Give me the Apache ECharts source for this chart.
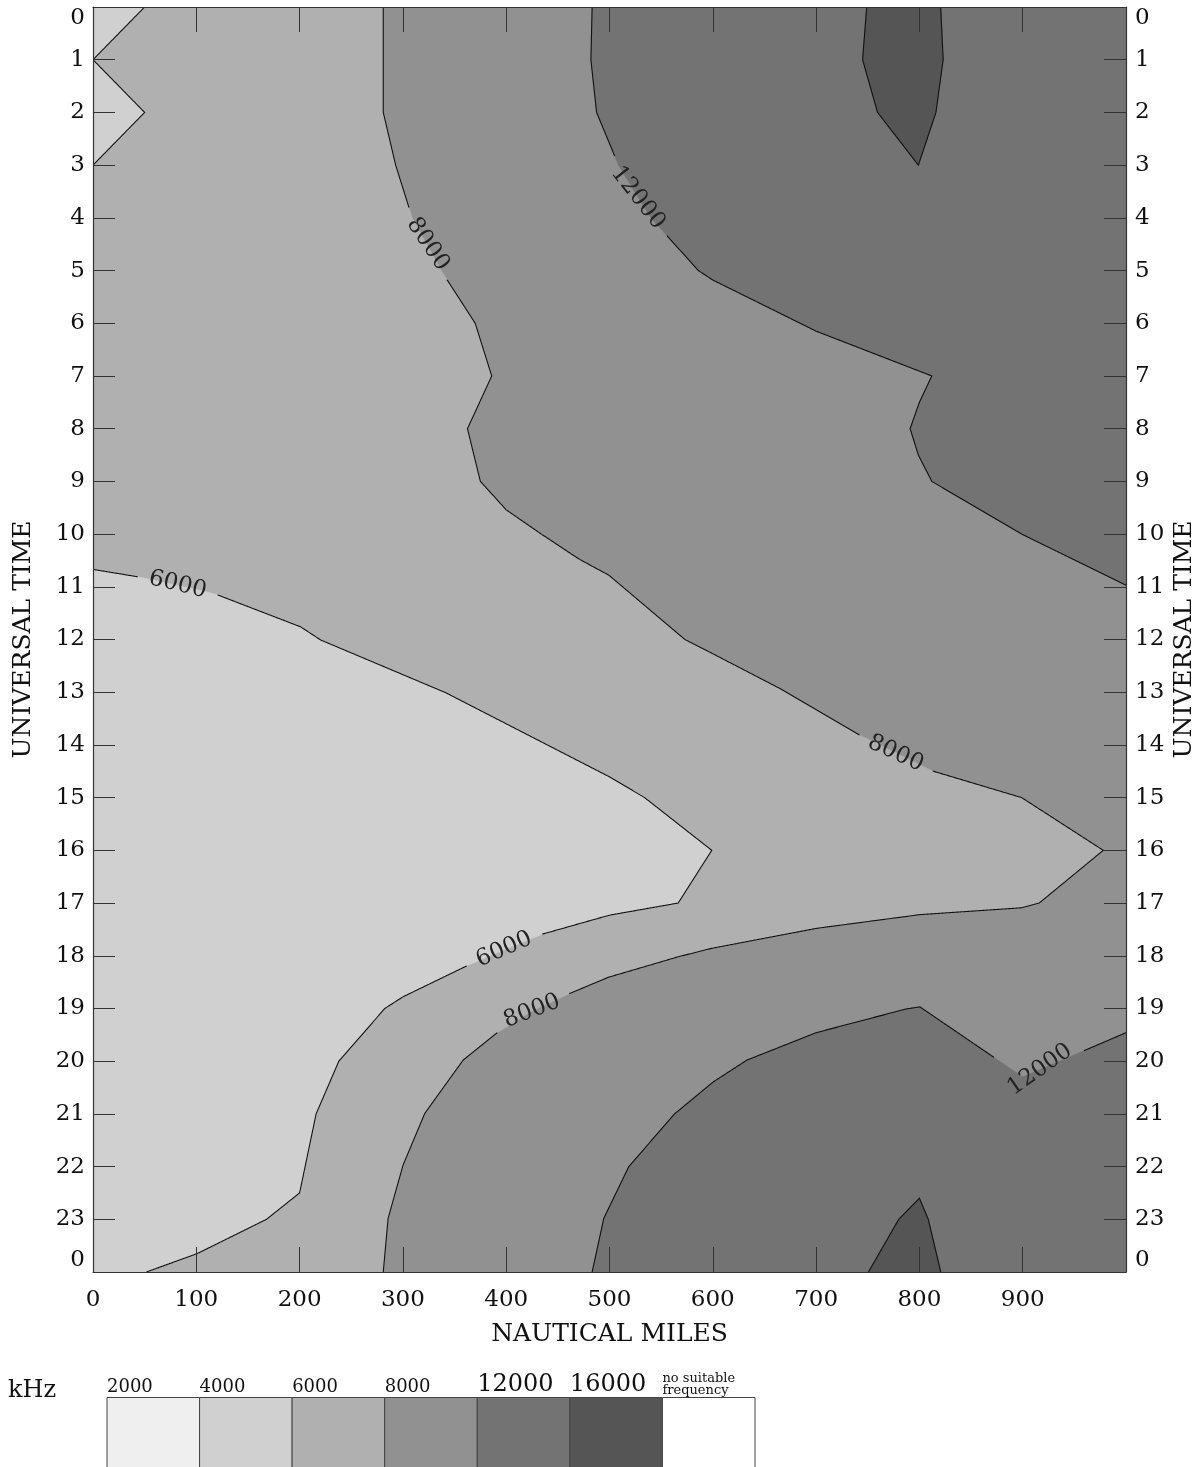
<!DOCTYPE html>
<html>
<head>
<meta charset="utf-8">
<script src="https://cdn.jsdelivr.net/npm/echarts/dist/echarts.min.js"></script>
<style>
html,body{margin:0;padding:0;background:#ffffff;}
#chart{width:1195px;height:1467px;}
</style>
</head>
<body>
<div id="chart"></div>
<script>
// ---------------- DATA (nautical miles, universal time hour; 24 = 0 of next day) ----------------
const mileTickLabels = ['0','100','200','300','400','500','600','700','800','900',''];
const hourTickLabels = ['0','1','2','3','4','5','6','7','8','9','10','11','12','13','14','15','16','17','18','19','20','21','22','23','0'];

const contour6000Top = [[50,0],[0,1],[50,2],[0,3]];
const contour6000 = [[0,10.67],[43.3,10.81],[100,11.05],[118.8,11.14],[201,11.76],[220.5,12.01],[341.5,13.01],[499.4,14.6],[534,15],[599,16],[566.5,17],[500,17.23],[435,17.59],[400,17.87],[361,18.2],[300,18.78],[282.5,19],[238,20],[216,21],[200,22.5],[168,23],[101,23.65],[51.7,24]];
const contour8000 = [[281,0],[281,2],[293,3],[309,4],[337,5],[370,6],[386,7],[362.5,8],[375,9],[400,9.54],[434,10],[471,10.48],[499.4,10.78],[573,12],[599,12.26],[665,12.93],[742,13.81],[812,14.49],[899,15],[978,16],[916,17],[899,17.09],[800.5,17.22],[700.5,17.48],[598.8,17.86],[566.5,18.02],[498.7,18.41],[461,18.72],[425,19.05],[390.6,19.47],[358.3,19.98],[321.2,20.99],[300.2,21.97],[285.7,22.98],[281,24]];
const contour12000Top = [[483.2,0],[482,1],[487.5,2],[508.7,3],[540,4],[586,5],[600,5.18],[700,6.15],[812,7],[800,7.5],[791,8],[799,8.5],[812,9],[899,10],[1000,10.97]];
const contour12000Bottom = [[1000,19.46],[900,20.3],[800.5,18.97],[787,19.01],[700,19.46],[633,19.98],[600.7,20.39],[563,21],[518.7,22],[494.5,22.98],[483.2,24]];
const contour16000Top = [[749,0],[745,1],[759.5,2],[799,3],[816,2],[823,1],[820.6,0]];
const contour16000Bottom = [[750.7,24],[780,23],[800,22.6],[808.6,23],[820.7,24]];

// contour labels: which line, text, position on the line
const contourLabels = [
  {line:'c8000',  text:'8000',  at:[324,4.5]},
  {line:'c12000Top', text:'12000', at:[527.5,3.62]},
  {line:'c6000',  text:'6000',  at:[82,10.96]},
  {line:'c8000',  text:'8000',  at:[777,14.16]},
  {line:'c6000',  text:'6000',  at:[398,17.88]},
  {line:'c8000',  text:'8000',  at:[425,19.05]},
  {line:'c12000Bottom', text:'12000', at:[916.7,20.16]}
];

// legend (colour key)
const legendLabels = ['2000','4000','6000','8000','12000','16000','no suitable\nfrequency'];

// ---------------- STYLE ----------------
const X_MIN = 0, X_MAX = 1000, H_MIN = 0, H_MAX = 24;
const FONT = 'DejaVu Serif';
const labelAngles = [-56,-52,-13.5,-25,24,21,35]; // degrees, per contour label
const legendColors = ['#efefef','#d0d0d0','#b0b0b0','#919191','#737373','#555555','#ffffff'];
const colA = '#d0d0d0', colB = '#b0b0b0', colC = '#919191', colD = '#737373', colE = '#555555';

const bands = [
  {color: colC, pts: [[X_MIN,H_MIN],[X_MAX,H_MIN],[X_MAX,H_MAX],[X_MIN,H_MAX]]},
  {color: colB, pts: contour8000.concat([[X_MIN,H_MAX],[X_MIN,H_MIN]])},
  {color: colA, pts: contour6000Top.concat([[X_MIN,H_MIN]])},
  {color: colA, pts: contour6000.concat([[X_MIN,H_MAX]])},
  {color: colD, pts: contour12000Top.concat([[X_MAX,H_MIN]])},
  {color: colD, pts: contour12000Bottom.concat([[X_MAX,H_MAX]])},
  {color: colE, pts: contour16000Top},
  {color: colE, pts: contour16000Bottom}
];
const lines = [
  {name:'c6000Top', pts: contour6000Top},
  {name:'c6000', pts: contour6000},
  {name:'c8000', pts: contour8000},
  {name:'c12000Top', pts: contour12000Top},
  {name:'c12000Bottom', pts: contour12000Bottom},
  {name:'c16000Top', pts: contour16000Top},
  {name:'c16000Bottom', pts: contour16000Bottom}
];

const LABEL_FONT_SIZE = 23;
const measureCtx = document.createElement('canvas').getContext('2d');
function textWidth(t, size){ measureCtx.font = size + 'px "' + FONT + '"'; return measureCtx.measureText(t).width; }

function renderBand(params, api){
  const b = bands[params.dataIndex];
  return {
    type:'polygon',
    z2: params.dataIndex,
    shape:{points: b.pts.map(p => api.coord(p))},
    style:{fill: b.color, stroke: b.color, lineWidth: 0.6}
  };
}

function renderLine(params, api){
  const ln = lines[params.dataIndex];
  const px = ln.pts.map(p => api.coord(p));
  const labs = [];
  contourLabels.forEach((l, i) => {
    if (l.line !== ln.name) return;
    const c = api.coord(l.at);
    labs.push({x:c[0], y:c[1], r: textWidth(l.text, LABEL_FONT_SIZE)/2 + 11, text:l.text, angle: labelAngles[i]});
  });
  const pieces = []; let cur = [];
  for (let i = 0; i < px.length - 1; i++){
    const a = px[i], b = px[i+1];
    const len = Math.hypot(b[0]-a[0], b[1]-a[1]);
    const n = Math.max(1, Math.ceil(len));
    for (let k = (i === 0 ? 0 : 1); k <= n; k++){
      const t = k / n;
      const q = [a[0] + (b[0]-a[0])*t, a[1] + (b[1]-a[1])*t];
      const hidden = labs.some(l => Math.hypot(q[0]-l.x, q[1]-l.y) < l.r);
      if (hidden){ if (cur.length > 1) pieces.push(cur); cur = []; }
      else cur.push(q);
    }
  }
  if (cur.length > 1) pieces.push(cur);
  const children = pieces.map(p => ({
    type:'polyline', shape:{points:p},
    style:{stroke:'#111111', lineWidth:1.1, fill:null}
  }));
  labs.forEach(l => children.push({
    type:'text', x:l.x, y:l.y, rotation: l.angle * Math.PI / 180,
    style:{text:l.text, fill:'#222222', fontSize:LABEL_FONT_SIZE, fontFamily:FONT, align:'center', verticalAlign:'middle'}
  }));
  return {type:'group', children};
}

function renderKey(params, api){
  const i = params.dataIndex;
  const p0 = api.coord([i, 1]);
  const p1 = api.coord([i + 1, 0]);
  return {
    type:'rect',
    shape:{x:p0[0], y:p0[1], width:p1[0]-p0[0], height:p1[1]-p0[1]},
    style:{fill: legendColors[i], stroke:'#444444', lineWidth:1}
  };
}

const axisLineStyle = {color:'#333333', width:1.2};
const tickStyle = {color:'#333333', width:1};
const labelStyleBase = {fontFamily: FONT, fontSize: 23, color:'#111111'};

const option = {
  animation: false,
  backgroundColor: '#ffffff',
  title: {
    text: 'kHz', left: 3, top: 1374,
    textStyle: {fontFamily: FONT, fontSize: 24, fontWeight: 'normal', color:'#111111'}
  },
  grid: [
    {left: 93, top: 7, width: 1033, height: 1265, containLabel: false, outerBoundsMode: 'none'},
    {left: 107, top: 1397.5, width: 648, height: 80, containLabel: false, outerBoundsMode: 'none'}
  ],
  xAxis: [
    {
      gridIndex: 0, type:'value', position:'bottom', min: X_MIN, max: X_MAX, interval: 100, z: 10,
      axisLine:{show:true, onZero:false, lineStyle: axisLineStyle},
      axisTick:{show:true, inside:true, length:25, lineStyle: tickStyle},
      splitLine:{show:false},
      axisLabel:Object.assign({show:true, margin:17, showMinLabel:true, showMaxLabel:true, hideOverlap:false,
        formatter: v => mileTickLabels[Math.round(v/100)] || ''}, labelStyleBase),
      name:'NAUTICAL MILES', nameLocation:'middle', nameGap: 50, nameMoveOverlap:false,
      nameTextStyle:{fontFamily: FONT, fontSize: 25, color:'#111111'}
    },
    {
      gridIndex: 0, type:'value', position:'top', min: X_MIN, max: X_MAX, interval: 100, z: 10,
      axisLine:{show:true, onZero:false, lineStyle: axisLineStyle},
      axisTick:{show:true, inside:true, length:25, lineStyle: tickStyle},
      splitLine:{show:false}, axisLabel:{show:false}
    },
    {
      gridIndex: 1, type:'value', position:'top', min: 0, max: 7, interval: 1,
      axisLine:{show:false}, axisTick:{show:false}, splitLine:{show:false},
      axisLabel:{
        show:true, margin: 1, align:'left', verticalAlign:'bottom', showMinLabel:true, showMaxLabel:true, hideOverlap:false,
        formatter: v => {
          const t = legendLabels[Math.round(v)];
          if (t === undefined) return '';
          if (t.indexOf('\n') >= 0) return t.split('\n').map(s => '{t|' + s + '}').join('\n');
          return (t.length > 4 ? '{b|' : '{s|') + t + '}';
        },
        rich:{
          s:{fontFamily: FONT, fontSize: 18, color:'#111111'},
          b:{fontFamily: FONT, fontSize: 24, color:'#111111'},
          t:{fontFamily: FONT, fontSize: 13, lineHeight: 12, color:'#111111'}
        }
      }
    }
  ],
  yAxis: [
    {
      gridIndex: 0, type:'value', position:'left', inverse:true, min: H_MIN, max: H_MAX, interval: 1, z: 10,
      axisLine:{show:true, onZero:false, lineStyle: axisLineStyle},
      axisTick:{show:true, inside:true, length:22, lineStyle: tickStyle},
      splitLine:{show:false},
      axisLabel:Object.assign({show:true, margin:8, showMinLabel:true, showMaxLabel:true, hideOverlap:false,
        verticalAlignMinLabel:'top', verticalAlignMaxLabel:'bottom',
        formatter: v => hourTickLabels[Math.round(v)]}, labelStyleBase),
      name:'UNIVERSAL TIME', nameLocation:'middle', nameRotate: 90, nameGap: 57, nameMoveOverlap:false,
      nameTextStyle:{fontFamily: FONT, fontSize: 25, color:'#111111'}
    },
    {
      gridIndex: 0, type:'value', position:'right', inverse:true, min: H_MIN, max: H_MAX, interval: 1, z: 10,
      axisLine:{show:true, onZero:false, lineStyle: axisLineStyle},
      axisTick:{show:true, inside:true, length:22, lineStyle: tickStyle},
      splitLine:{show:false},
      axisLabel:Object.assign({show:true, margin:9, showMinLabel:true, showMaxLabel:true, hideOverlap:false,
        verticalAlignMinLabel:'top', verticalAlignMaxLabel:'bottom',
        formatter: v => hourTickLabels[Math.round(v)]}, labelStyleBase),
      name:'UNIVERSAL TIME', nameLocation:'middle', nameRotate: 90, nameGap: 46, nameMoveOverlap:false,
      nameTextStyle:{fontFamily: FONT, fontSize: 25, color:'#111111'}
    },
    {
      gridIndex: 1, type:'value', min: 0, max: 1, show:false
    }
  ],
  series: [
    {
      type:'custom', name:'bands', xAxisIndex:0, yAxisIndex:0, z: 1, clip: true,
      renderItem: renderBand, data: bands.map((b, i) => [i])
    },
    {
      type:'custom', name:'contours', xAxisIndex:0, yAxisIndex:0, z: 2, clip: true,
      renderItem: renderLine, data: lines.map((l, i) => [i])
    },
    {
      type:'custom', name:'key', xAxisIndex:2, yAxisIndex:2, z: 2,
      renderItem: renderKey, data: legendLabels.map((l, i) => [i])
    }
  ]
};

const chart = echarts.init(document.getElementById('chart'), null, {renderer:'canvas'});
chart.setOption(option);
</script>
</body>
</html>
